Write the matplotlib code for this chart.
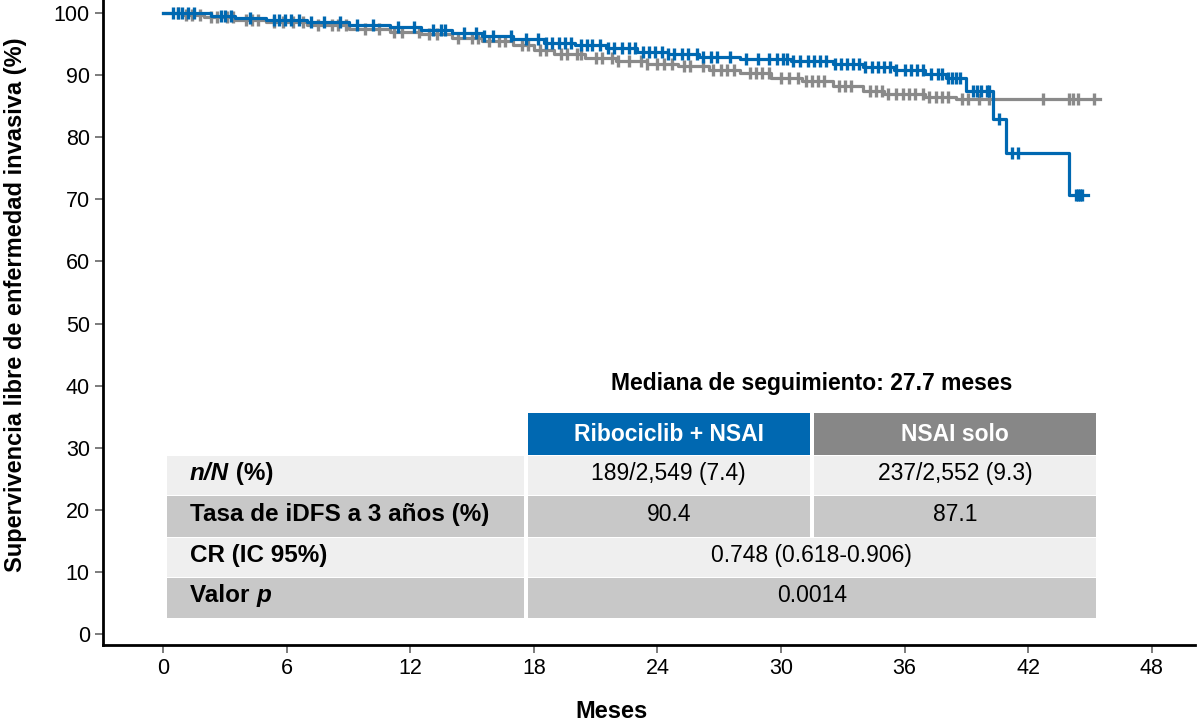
import numpy as np
import matplotlib.pyplot as plt
from matplotlib.patches import Rectangle

# step curves (months, % iDFS)
blue_t = [0, 2.3, 3.5, 5.0, 7.0, 9.0, 11.0, 12.5, 14.0, 15.5, 17.0, 18.5, 20.0, 21.5,
          23.0, 24.5, 26.0, 28.0, 30.5, 32.5, 34.0, 35.5, 37.0, 38.0, 39.0, 40.3, 40.9, 44.0]
blue_s = [100, 99.6, 99.2, 98.9, 98.5, 98.1, 97.8, 97.3, 96.8, 96.3, 95.8, 95.2, 94.8, 94.3,
          93.8, 93.4, 93.0, 92.6, 92.2, 91.8, 91.3, 90.9, 90.2, 89.5, 87.4, 82.9, 77.5, 70.7]
blue_end = 44.9
gray_t = [0, 1.0, 2.0, 3.5, 5.0, 7.0, 9.0, 11.0, 12.5, 14.0, 15.5, 17.0, 18.0, 19.0, 20.5,
          22.0, 23.5, 25.0, 26.5, 28.0, 29.5, 31.0, 32.5, 34.0, 35.0, 37.0, 38.5]
gray_s = [100, 99.7, 99.3, 98.9, 98.5, 98.0, 97.5, 97.0, 96.6, 96.0, 95.5, 94.8, 94.0, 93.4,
          92.8, 92.3, 91.8, 91.4, 90.9, 90.3, 89.6, 89.0, 88.3, 87.5, 87.0, 86.5, 86.1]
gray_end = 45.5

# censoring times
blue_cens = [0.5, 0.7, 0.9, 1.2, 1.5, 2.8, 3.0, 3.3, 4.2, 5.4, 5.6, 5.9, 6.2, 6.6, 7.2,
             7.8, 8.6, 9.4, 10.2, 11.4, 12.2, 13.1, 13.5, 13.7, 14.6, 15.2, 15.6, 16.0,
             16.9, 17.6, 18.2, 18.6, 18.9, 19.2, 19.5, 19.8, 20.3, 20.6, 20.8, 21.2, 21.6,
             21.9, 22.3, 22.6, 22.9, 23.3, 23.6, 23.9, 24.2, 24.5, 24.8, 25.2, 25.5, 25.9,
             26.2, 26.6, 26.9, 27.5, 28.3, 28.9, 29.4, 29.8, 30.1, 30.3, 30.6, 30.9, 31.3,
             31.6, 31.9, 32.2, 32.6, 32.9, 33.2, 33.5, 33.8, 34.1, 34.4, 34.7, 35.0, 35.3,
             35.6, 36.0, 36.3, 36.6, 36.9, 37.3, 37.6, 37.8, 38.1, 38.3, 38.5, 38.7, 39.3,
             39.5, 39.7, 40.0, 40.1, 40.6, 41.2, 41.5, 44.3, 44.4, 44.5, 44.6]
gray_cens = [0.7, 1.1, 1.4, 1.8, 2.3, 2.6, 3.1, 3.4, 4.0, 4.3, 4.6, 5.4, 5.8, 6.3, 6.8,
             7.5, 8.2, 8.5, 8.9, 9.8, 10.5, 11.2, 11.6, 12.4, 12.9, 13.3, 14.3, 15.0, 15.3,
             15.8, 16.3, 16.6, 17.4, 17.7, 18.3, 18.6, 19.3, 19.6, 20.1, 20.3, 21.0, 21.3,
             21.8, 22.1, 22.6, 23.2, 23.5, 24.0, 24.3, 24.7, 25.3, 25.6, 26.2, 26.7, 27.1,
             27.4, 27.7, 28.5, 28.8, 29.1, 29.4, 30.0, 30.4, 30.8, 31.2, 31.5, 31.8, 32.1,
             32.8, 33.1, 33.4, 34.3, 34.6, 34.9, 35.2, 35.6, 35.9, 36.2, 36.5, 36.9, 37.2,
             37.5, 37.8, 38.1, 38.8, 39.1, 39.6, 40.1, 42.7, 44.0, 44.2, 44.4, 45.2]

xticks = [0, 6, 12, 18, 24, 30, 36, 42, 48]
yticks = [0, 10, 20, 30, 40, 50, 60, 70, 80, 90, 100]

title_txt = 'Mediana de seguimiento: 27.7 meses'
arm_names = ['Ribociclib + NSAI', 'NSAI solo']
nN = ['189/2,549 (7.4)', '237/2,552 (9.3)']
idfs3 = ['90.4', '87.1']
hr_txt = '0.748 (0.618-0.906)'
p_txt = '0.0014'

BLUE = '#0068b1'
GRAY = '#8a8a8a'

plt.rcParams['font.family'] = ['Liberation Sans', 'DejaVu Sans']

fig = plt.figure(figsize=(11.98, 7.24), dpi=100)
ax = fig.add_axes([0.086, 0.109, 0.9115, 0.891])


def step_curve(t, s, end):
    x = list(t) + [end]
    y = list(s) + [s[-1]]
    return x, y


def surv_at(t, s, q):
    idx = np.searchsorted(t, q, side='right') - 1
    return np.array(s)[idx]


for t, s, end, cens, col, z in [(gray_t, gray_s, gray_end, gray_cens, GRAY, 2),
                                (blue_t, blue_s, blue_end, blue_cens, BLUE, 3)]:
    x, y = step_curve(t, s, end)
    ax.step(x, y, where='post', color=col, lw=2.3, zorder=z)
    c = np.array(cens)
    ax.plot(c, surv_at(t, s, c), ls='none', marker='|', ms=9, mew=2.4, color=col, zorder=z)

ax.set_xlim(-2.92, 50.1)
ax.set_ylim(-1.77, 102.1)
ax.set_xticks(xticks)
ax.set_yticks(yticks)
ax.tick_params(labelsize=15.5, length=6, width=1.2, direction='out', color='#666666')
for side in ['top', 'right']:
    ax.spines[side].set_visible(False)
for side in ['left', 'bottom']:
    ax.spines[side].set_linewidth(2)
ax.set_xlabel('Meses', fontsize=17, fontweight='bold')
ax.xaxis.set_label_coords(0.466, -0.085)
ax.set_ylabel('Supervivencia libre de enfermedad invasiva (%)', fontsize=17,
              fontweight='bold')
ax.yaxis.set_label_coords(-0.07, 0.527)

# summary table
LIGHT = '#efefef'
DARK = '#c8c8c8'
x0, x1, x2, x3 = 0.1, 17.6, 31.5, 45.4
gap = 0.1
rows = [28.8, 22.4, 15.6, 9.2, 2.6]
fs = 16.5


def cell(xa, xb, ya, yb, col):
    ax.add_patch(Rectangle((xa + gap, yb), xb - xa - 2 * gap, ya - yb - 0.15,
                           facecolor=col, edgecolor='none', zorder=5, clip_on=False))


ax.text((x1 + x3) / 2, 40.3, title_txt, ha='center', va='center', fontsize=fs,
        fontweight='bold', zorder=6)
cell(x1, x2, 35.7, 28.8, BLUE)
cell(x2, x3, 35.7, 28.8, '#878787')
ax.text((x1 + x2) / 2, 32.2, arm_names[0], ha='center', va='center', color='white',
        fontsize=fs, fontweight='bold', zorder=6)
ax.text((x2 + x3) / 2, 32.2, arm_names[1], ha='center', va='center', color='white',
        fontsize=fs, fontweight='bold', zorder=6)

row_cols = [LIGHT, DARK, LIGHT, DARK]
for i in range(4):
    ya, yb = rows[i], rows[i + 1]
    cell(x0, x1, ya, yb, row_cols[i])
    if i < 2:
        cell(x1, x2, ya, yb, row_cols[i])
        cell(x2, x3, ya, yb, row_cols[i])
    else:
        cell(x1, x3, ya, yb, row_cols[i])

lx = 1.3
lfs = 17.5
yc = [(rows[i] + rows[i + 1]) / 2 + 0.3 for i in range(4)]
t1 = ax.text(lx, yc[0], 'n/N', fontsize=lfs, fontweight='bold', style='italic',
             va='center', zorder=6)
ax.annotate(' (%)', xy=(1, 0), xycoords=t1, va='bottom', fontsize=lfs,
            fontweight='bold', zorder=6)
ax.text(lx, yc[1], 'Tasa de iDFS a 3 años (%)', fontsize=lfs, fontweight='bold',
        va='center', zorder=6)
ax.text(lx, yc[2], 'CR (IC 95%)', fontsize=lfs, fontweight='bold', va='center', zorder=6)
t2 = ax.text(lx, yc[3], 'Valor ', fontsize=lfs, fontweight='bold', va='center', zorder=6)
ax.annotate('p', xy=(1, 0), xycoords=t2, va='bottom', fontsize=lfs, fontweight='bold',
            style='italic', zorder=6)

ax.text((x1 + x2) / 2, yc[0], nN[0], ha='center', va='center', fontsize=fs, zorder=6)
ax.text((x2 + x3) / 2, yc[0], nN[1], ha='center', va='center', fontsize=fs, zorder=6)
ax.text((x1 + x2) / 2, yc[1], idfs3[0], ha='center', va='center', fontsize=fs, zorder=6)
ax.text((x2 + x3) / 2, yc[1], idfs3[1], ha='center', va='center', fontsize=fs, zorder=6)
ax.text((x1 + x3) / 2, yc[2], hr_txt, ha='center', va='center', fontsize=fs, zorder=6)
ax.text((x1 + x3) / 2, yc[3], p_txt, ha='center', va='center', fontsize=fs, zorder=6)

fig.savefig('out.png', dpi=100)
